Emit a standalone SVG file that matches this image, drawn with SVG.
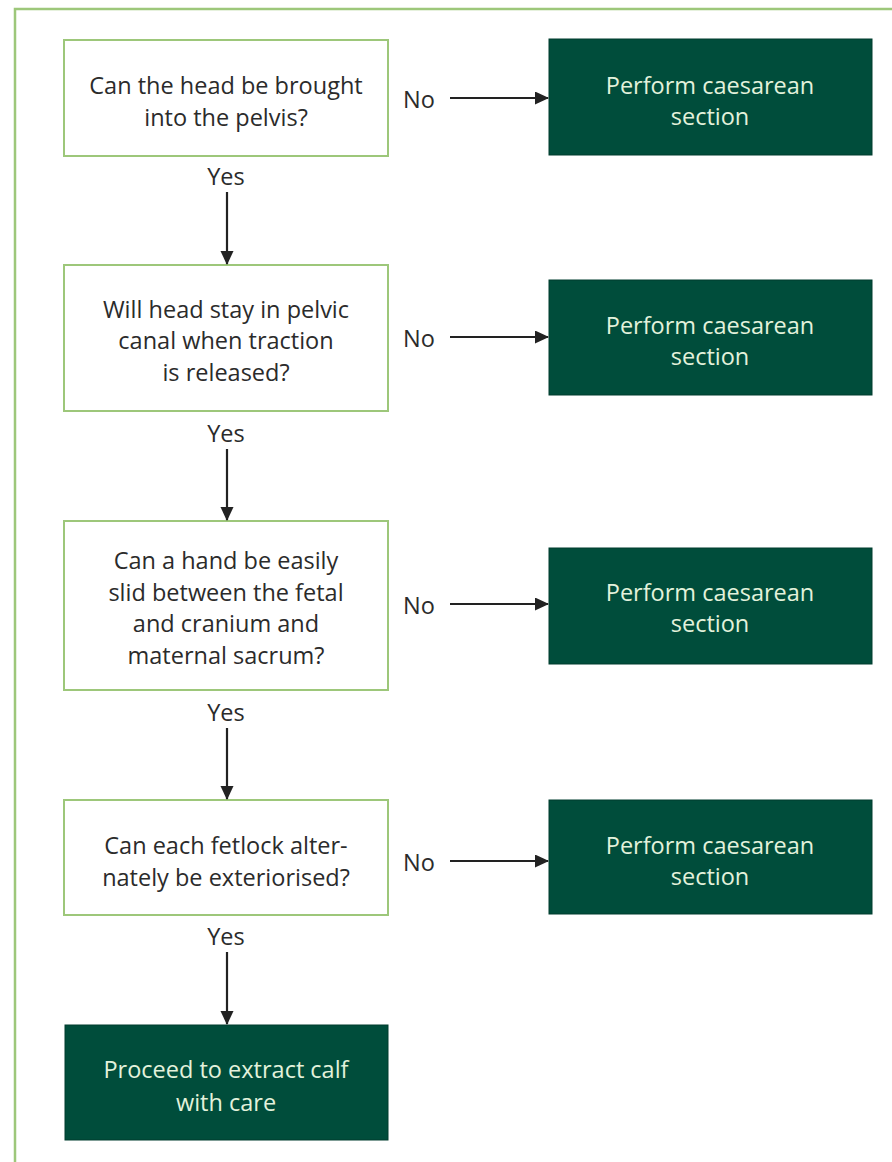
<svg xmlns="http://www.w3.org/2000/svg" width="892" height="1162" viewBox="0 0 892 1162">
<defs>
<style>
.q{fill:#fff;stroke:#9dc77a;stroke-width:2}
.a{fill:#004d3b;stroke:#003d2e;stroke-width:1}
.t{font-family:"Open Sans","Noto Sans",sans-serif;font-size:23.5px;fill:#2b2b2b;text-anchor:middle;dominant-baseline:central}
.w{fill:#e3f2dc}
.c{stroke:#222;stroke-width:2.2;fill:none;marker-end:url(#ah)}
</style>
<marker id="ah" markerWidth="14" markerHeight="14" refX="13" refY="6.5" orient="auto" markerUnits="userSpaceOnUse">
<path d="M0,0 L14,6.5 L0,13 Z" fill="#222"/>
</marker>
</defs>
<rect width="892" height="1162" fill="#fff"/>
<path d="M15,1170 L15,9 L900,9" fill="none" stroke="#9dc77a" stroke-width="2.5"/>

<g id="q1"><rect class="q" x="64" y="40" width="324" height="116"/>
<text class="t" x="226" y="85">Can the head be brought</text>
<text class="t" x="226" y="117">into the pelvis?</text></g>
<g id="a1"><rect class="a" x="549" y="39" width="323" height="116"/>
<text class="t w" x="710" y="85">Perform caesarean</text>
<text class="t w" x="710" y="116">section</text></g>

<g id="q2"><rect class="q" x="64" y="265" width="324" height="146"/>
<text class="t" x="226" y="309">Will head stay in pelvic</text>
<text class="t" x="226" y="340">canal when traction</text>
<text class="t" x="226" y="372">is released?</text></g>
<g id="a2"><rect class="a" x="549" y="280" width="323" height="115"/>
<text class="t w" x="710" y="325">Perform caesarean</text>
<text class="t w" x="710" y="356">section</text></g>

<g id="q3"><rect class="q" x="64" y="521" width="324" height="169"/>
<text class="t" x="226" y="560">Can a hand be easily</text>
<text class="t" x="226" y="592">slid between the fetal</text>
<text class="t" x="226" y="623">and cranium and</text>
<text class="t" x="226" y="655">maternal sacrum?</text></g>
<g id="a3"><rect class="a" x="549" y="548" width="323" height="116"/>
<text class="t w" x="710" y="592">Perform caesarean</text>
<text class="t w" x="710" y="623">section</text></g>

<g id="q4"><rect class="q" x="64" y="800" width="324" height="115"/>
<text class="t" x="226" y="845">Can each fetlock alter-</text>
<text class="t" x="226" y="877">nately be exteriorised?</text></g>
<g id="a4"><rect class="a" x="549" y="800" width="323" height="114"/>
<text class="t w" x="710" y="845">Perform caesarean</text>
<text class="t w" x="710" y="876">section</text></g>

<g id="end"><rect class="a" x="65" y="1025" width="323" height="115"/>
<text class="t w" x="226" y="1069">Proceed to extract calf</text>
<text class="t w" x="226" y="1102">with care</text></g>

<g id="labels">
<text class="t" x="226" y="176">Yes</text>
<text class="t" x="226" y="433">Yes</text>
<text class="t" x="226" y="712">Yes</text>
<text class="t" x="226" y="936">Yes</text>
<text class="t" x="419" y="99">No</text>
<text class="t" x="419" y="338">No</text>
<text class="t" x="419" y="605">No</text>
<text class="t" x="419" y="862">No</text>
</g>

<g id="connectors">
<line class="c" x1="227" y1="192" x2="227" y2="264"/>
<line class="c" x1="227" y1="449" x2="227" y2="520"/>
<line class="c" x1="227" y1="728" x2="227" y2="799"/>
<line class="c" x1="227" y1="952" x2="227" y2="1024"/>
<line class="c" x1="450" y1="98" x2="548" y2="98"/>
<line class="c" x1="450" y1="337" x2="548" y2="337"/>
<line class="c" x1="450" y1="604" x2="548" y2="604"/>
<line class="c" x1="450" y1="861" x2="548" y2="861"/>
</g>
</svg>
